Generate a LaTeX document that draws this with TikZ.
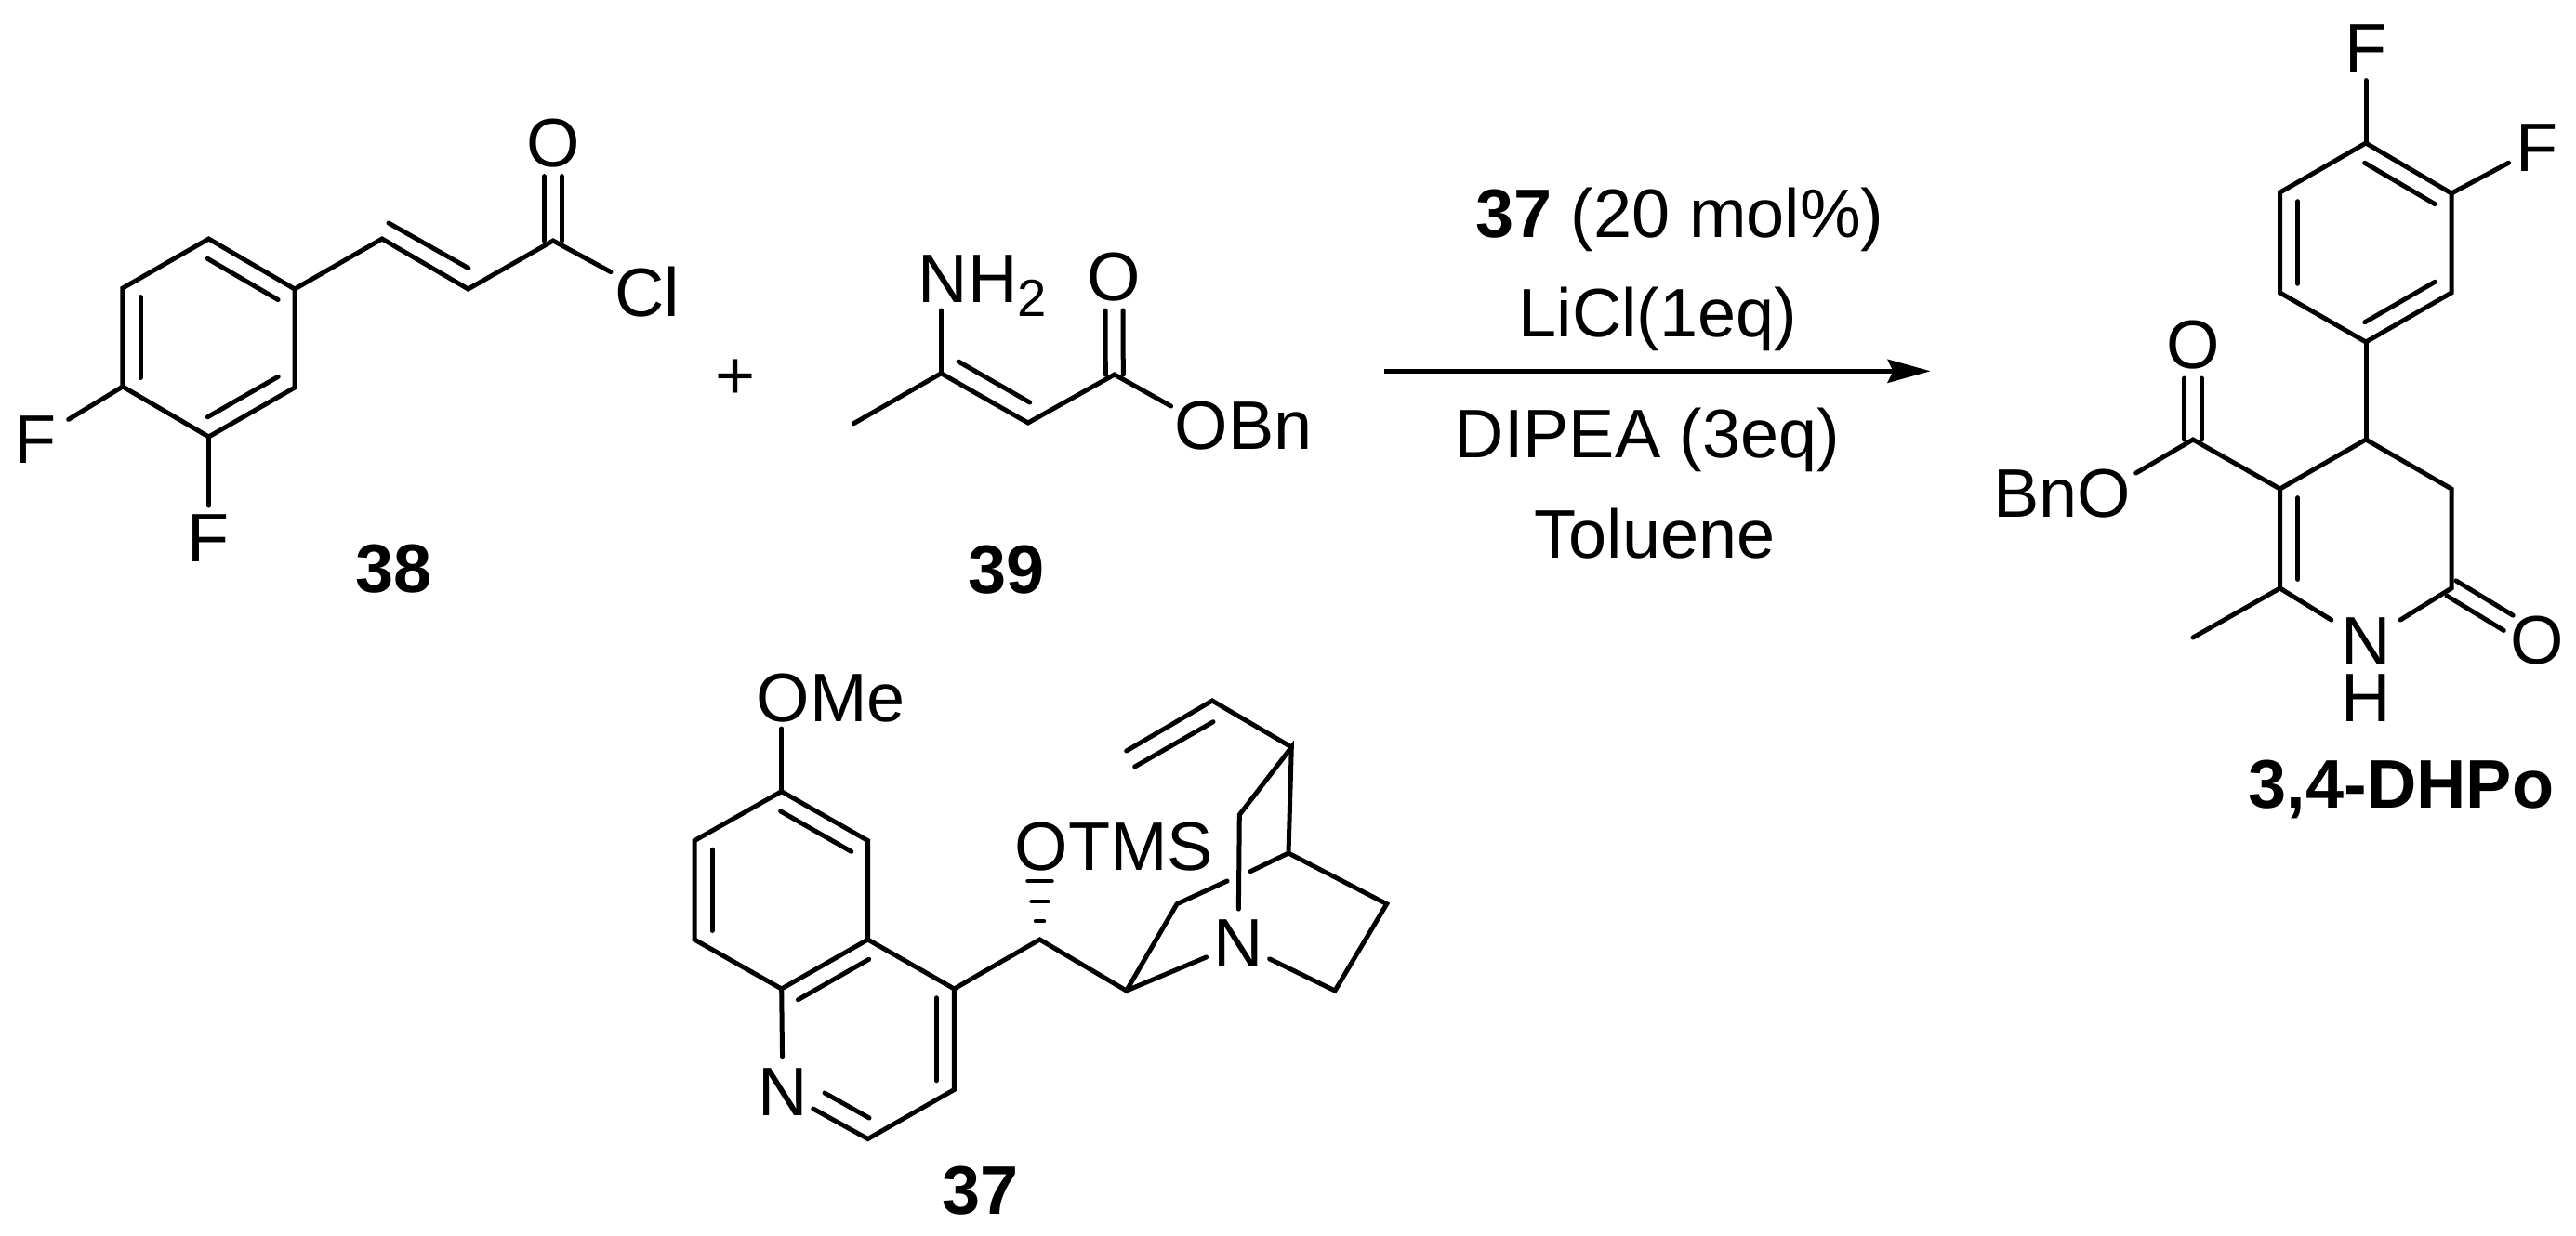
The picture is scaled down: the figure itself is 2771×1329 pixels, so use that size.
\documentclass[tikz,border=0pt]{standalone}
\usepackage{fontspec}
\setmainfont{Liberation Sans}
\usetikzlibrary{calc,arrows.meta}

\tikzset{
  bond/.style={line width=0.05cm,line cap=round,line join=miter},
  hashbar/.style={line width=0.045cm,line cap=round},
  rxnarrow/.style={line width=0.05cm,-{Stealth[length=0.46cm,width=0.25cm,inset=0.06cm]}},
  atomlabel/.style={circle,inner sep=0pt,font=\fontsize{21}{25}\selectfont},
  chemtext/.style={inner sep=0pt,font=\fontsize{21}{25}\selectfont},
  cmpd/.style={inner sep=0pt,anchor=base,font=\fontsize{21}{25}\selectfont\bfseries}
}
\newcommand{\innerbond}[2]{\draw[bond] ($(#1)!.09!(#2)!.19cm!90:(#2)$) -- ($(#2)!.09!(#1)!.19cm!-90:(#1)$);}
\newcommand{\carbonyl}[2]{
  \draw[bond,shorten >=.36cm] ($(#1)!.095cm!90:(#2)$) -- ($(#2)!.095cm!-90:(#1)$);
  \draw[bond,shorten >=.36cm] ($(#1)!.095cm!-90:(#2)$) -- ($(#2)!.095cm!90:(#1)$);
}

\begin{document}
\begin{tikzpicture}[x=0.01cm,y=-0.01cm]
\useasboundingbox (0,0) rectangle (2771,1329);

% acid chloride 38
\coordinate (a1) at (224.5,257);
\coordinate (a2) at (317,311);
\coordinate (a3) at (317,417);
\coordinate (a4) at (224.5,470);
\coordinate (a5) at (132,416);
\coordinate (a6) at (132,310);
\coordinate (c1) at (411,257);
\coordinate (c2) at (503.6,311);
\coordinate (c3) at (595,259);
\coordinate (c1i) at (418,240);
\coordinate (c2i) at (504,288.6);
\node[atomlabel] (oa) at (595,153.6) {O};
\node[atomlabel,minimum size=0.86cm] (cla) at (696.5,314) {Cl};
\node[atomlabel,minimum size=0.82cm] (fa) at (38,473) {F};
\node[atomlabel] (fb) at (224.5,578.6) {F};
\node[cmpd] (n38) at (423.5,637.5) {38};
\node[chemtext] (plus) at (791,407.7) {+};

\draw[bond] (a1) -- (a2) -- (a3) -- (a4) -- (a5) -- (a6) -- cycle;
\innerbond{a2}{a1}
\innerbond{a4}{a3}
\innerbond{a6}{a5}
\draw[bond] (a2) -- (c1) -- (c2) -- (c3) -- (cla);
\draw[bond] (c1i) -- (c2i);
\carbonyl{c3}{oa}
\draw[bond] (a5) -- (fa);
\draw[bond] (a4) -- (fb);

% enamine 39
\coordinate (b1) at (918.3,455.7);
\coordinate (b2) at (1012.4,401.7);
\coordinate (b3) at (1105.8,455);
\coordinate (b4) at (1198.8,403);
\coordinate (b2i) at (1031,389);
\coordinate (b3i) at (1107.7,433);
\coordinate (nhend) at (1012.4,334);
\coordinate (obnend) at (1259.6,437);
\node[chemtext,anchor=base west] (nh) at (987,325) {NH\raisebox{-0.15cm}{\fontsize{16}{18}\selectfont 2}};
\node[atomlabel] (ob) at (1198.4,298) {O};
\node[chemtext,anchor=base west] (obn) at (1263,483) {OBn};
\node[cmpd] (n39) at (1083,638) {39};

\draw[bond] (b1) -- (b2) -- (b3) -- (b4) -- (obnend);
\draw[bond] (b2i) -- (b3i);
\draw[bond] (b2) -- (nhend);
\carbonyl{b4}{ob}

% conditions
\coordinate (arrowstart) at (1488.6,399.3);
\coordinate (arrowend) at (2076.6,399.3);
\node[chemtext,anchor=base] (cat) at (1806.8,255) {\textbf{37} (20 mol\%)};
\node[chemtext,anchor=base] (licl) at (1783.6,362.7) {LiCl(1eq)};
\node[chemtext,anchor=base] (dipea) at (1772,492.7) {DIPEA (3eq)};
\node[chemtext,anchor=base] (tol) at (1780,600.7) {Toluene};
\draw[rxnarrow] (arrowstart) -- (arrowend);

% product
\coordinate (p1) at (2545,154);
\coordinate (p2) at (2637,208);
\coordinate (p3) at (2637,315);
\coordinate (p4) at (2545,368);
\coordinate (p5) at (2452.6,315);
\coordinate (p6) at (2452.6,207);
\coordinate (r4) at (2545,473);
\coordinate (r3) at (2452.6,526);
\coordinate (r5) at (2637,526);
\coordinate (r6) at (2637,633);
\coordinate (r2) at (2452.6,633);
\coordinate (me) at (2359,686);
\coordinate (est) at (2359,473);
\coordinate (bnoend) at (2297.7,509);
\node[atomlabel] (fc) at (2545,52) {F};
\node[atomlabel] (fd) at (2729,159) {F};
\node[atomlabel] (oc) at (2359,371) {O};
\node[atomlabel] (od) at (2729,689) {O};
\node[atomlabel,minimum size=0.86cm] (np) at (2545,690) {N};
\node[chemtext] (hp) at (2545,751.5) {H};
\node[chemtext,anchor=base east] (bno) at (2293,556) {BnO};
\node[cmpd] (dhpo) at (2583,869) {3,4-DHPo};

\draw[bond] (p1) -- (p2) -- (p3) -- (p4) -- (p5) -- (p6) -- cycle;
\innerbond{p2}{p1}
\innerbond{p4}{p3}
\innerbond{p6}{p5}
\draw[bond] (p1) -- (fc);
\draw[bond] (p2) -- (fd);
\draw[bond] (p4) -- (r4);
\draw[bond] (np) -- (r2) -- (r3) -- (r4) -- (r5) -- (r6) -- (np);
\innerbond{r3}{r2}
\draw[bond] (r2) -- (me);
\draw[bond] (r3) -- (est) -- (bnoend);
\carbonyl{est}{oc}
\carbonyl{r6}{od}

% catalyst 37
\coordinate (q1) at (840.7,851.6);
\coordinate (q2) at (933.6,904.6);
\coordinate (q3) at (933.6,1011);
\coordinate (q4) at (840.7,1064);
\coordinate (q5) at (747,1011);
\coordinate (q6) at (747,904.6);
\coordinate (q7) at (1026.4,1064);
\coordinate (q8) at (1026.4,1172.5);
\coordinate (q9) at (933.6,1225.5);
\coordinate (q9i) at (935,1203);
\coordinate (nqi) at (887,1176);
\coordinate (omeend) at (840.7,784);
\coordinate (ch) at (1118.5,1011);
\coordinate (c8) at (1211.7,1066);
\coordinate (c7) at (1266,972.7);
\coordinate (gapl) at (1320,948);
\coordinate (gapr) at (1345,937.7);
\coordinate (c4) at (1386,918);
\coordinate (c3q) at (1389.3,804);
\coordinate (c2q) at (1333.3,876.7);
\coordinate (c5q) at (1491.7,972.7);
\coordinate (c6q) at (1436,1066);
\coordinate (vy1) at (1304,754);
\coordinate (vy2) at (1211.7,808);
\coordinate (vy1i) at (1305,776.7);
\coordinate (vy2i) at (1220.7,825);
\node[chemtext,anchor=base west] (ome) at (813,776) {OMe};
\node[atomlabel] (nq) at (842,1175) {N};
\node[chemtext,anchor=base west] (otms) at (1091,936) {OTMS};
\node[atomlabel] (nb) at (1332,1015.5) {N};
\node[cmpd] (n37) at (1055,1306) {37};

\draw[bond] (q1) -- (q2) -- (q3) -- (q4) -- (q5) -- (q6) -- cycle;
\innerbond{q2}{q1}
\innerbond{q6}{q5}
\innerbond{q3}{q4}
\draw[bond] (q1) -- (omeend);
\draw[bond] (nq) -- (q4);
\draw[bond] (q3) -- (q7) -- (q8) -- (q9) -- (nq);
\innerbond{q8}{q7}
\draw[bond] (q9i) -- (nqi);
\draw[bond] (q7) -- (ch) -- (c8) -- (c7) -- (gapl);
\foreach \d/\w in {20/4.5,41/9,63/13}
  \draw[hashbar] ($(ch)+(-\w,-\d)$) -- ($(ch)+(\w,-\d)$);
\draw[bond] (gapr) -- (c4) -- (c3q) -- (c2q) -- (nb);
\draw[bond] (c8) -- (nb);
\draw[bond] (c4) -- (c5q) -- (c6q) -- (nb);
\draw[bond] (c3q) -- (vy1) -- (vy2);
\draw[bond] (vy1i) -- (vy2i);
\end{tikzpicture}
\end{document}
